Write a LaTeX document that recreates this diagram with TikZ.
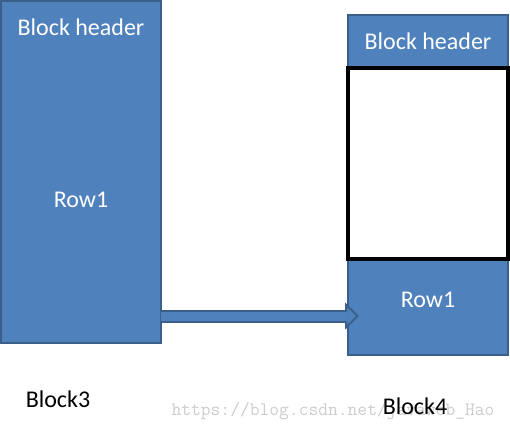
\documentclass[tikz,border=0pt]{standalone}
\usepackage{fontspec}
\setmainfont{Carlito}
\usepackage{tikz}
\usetikzlibrary{positioning,arrows.meta}
\definecolor{blkfill}{HTML}{4F81BD}
\definecolor{blkline}{HTML}{3A5F8B}
\tikzset{
  blk/.style={draw=blkline,fill=blkfill,line width=2.5pt,minimum width=160pt,inner sep=0pt,outer sep=0pt},
  hole/.style={blk,draw=black,fill=white,line width=3.5pt},
  wtxt/.style={text=white,font=\fontsize{24}{28}\selectfont},
  btxt/.style={text=black,font=\fontsize{24}{28}\selectfont},
  wmark/.style={text=black!20,font=\ttfamily\fontsize{19}{22}\selectfont},
  fatout/.style={line width=13pt,draw=blkline,-{Triangle[length=14pt,width=27pt,line width=2pt,fill=blkfill]}},
  fatin/.style={line width=9pt,draw=blkfill,shorten >=12pt},
}

\begin{document}
\begin{tikzpicture}[x=1pt,y=-1pt,node distance=0pt]
  \useasboundingbox (0,0) rectangle (510,434);
  % Block4
  \node[blk,minimum height=96pt] (b4r) at (428,307) {};
  \node[blk,minimum height=53pt,above=191pt of b4r] (b4h) {};
  \node[hole,minimum height=191pt,below=of b4h] (b4e) {};
  \node[wtxt] (b4ht) at (b4h) {Block header};
  \node[wtxt] (b4rt) at ([yshift=7pt]b4r.center) {Row1};
  % link
  \coordinate (tip) at ([xshift=11pt,yshift=-9pt]b4r.west);
  \node[blk,minimum height=342pt] (b3) at (81,172) {};
  \draw[fatout] (b3.east |- tip) -- (tip);
  \draw[fatin] (b3.east |- tip) -- (tip);
  % Block3
  \node[wtxt] (b3ht) at ([yshift=-26pt]b3.north) {Block header};
  \node[wtxt] (b3rt) at ([yshift=-28pt]b3.center) {Row1};
  \node[btxt] (b3l) at (58,399) {Block3};
  \node[wmark] (wm) at (333,411) {https://blog.csdn.net/javaweb\_Hao};
  \node[btxt] (b4l) at (415,406) {Block4};
\end{tikzpicture}
\end{document}
